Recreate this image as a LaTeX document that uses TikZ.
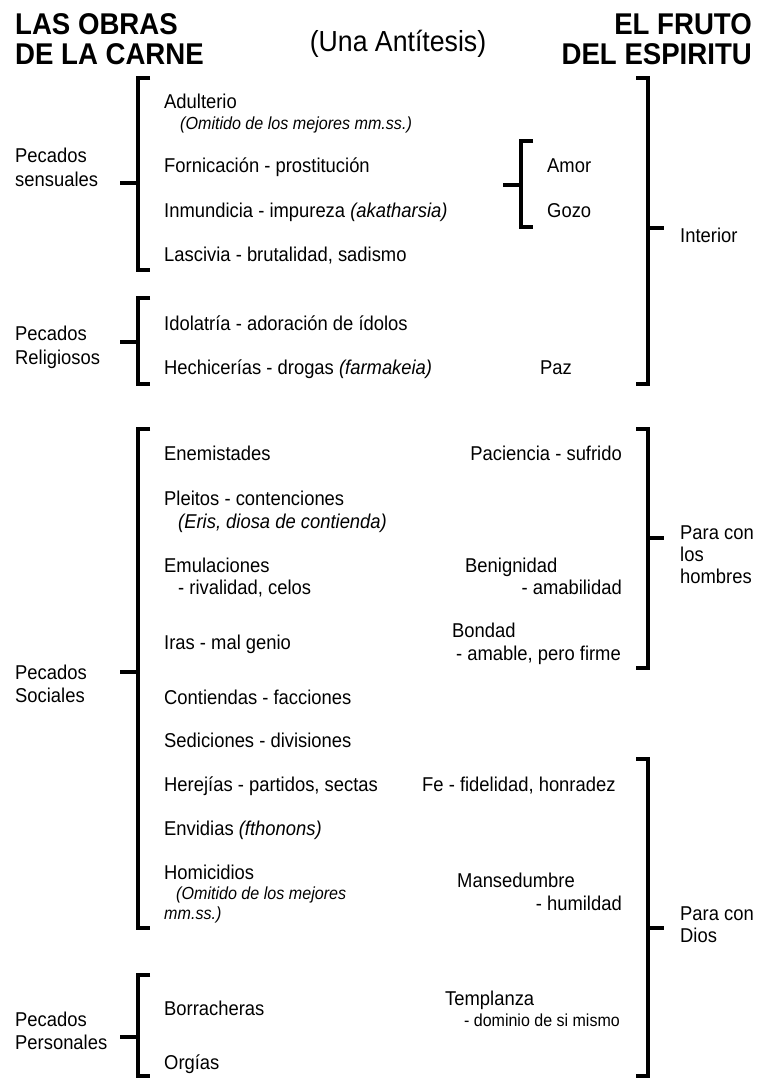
\documentclass[tikz,border=0pt]{standalone}
\usepackage{fontspec}
\setmainfont{Liberation Sans}[FakeStretch=0.92]
\begin{document}
\begin{tikzpicture}[x=1pt,y=-1pt,
  txt/.style={inner sep=0pt,anchor=base west,font=\fontsize{20}{24}\selectfont},
  txtr/.style={inner sep=0pt,anchor=base east,font=\fontsize{20}{24}\selectfont},
  note/.style={inner sep=0pt,anchor=base west,font=\fontsize{17.5}{21}\selectfont\itshape},
  noter/.style={inner sep=0pt,anchor=base east,font=\fontsize{17.4}{21}\selectfont},
  head/.style={inner sep=0pt,font=\fontsize{30}{34}\selectfont\bfseries},
  brk/.style={line width=3.6pt,line join=miter,line cap=butt}]
\useasboundingbox (0,0) rectangle (764,1078);
% headers
\node[head,anchor=base west] (h1) at (15,35) {LAS OBRAS};
\node[head,anchor=base west] (h2) at (15,65) {DE LA CARNE};
\node[inner sep=0pt,anchor=base,font=\fontsize{29}{32}\selectfont] (h3) at (398,52) {(Una Antítesis)};
\node[head,anchor=base east] (h4) at (752,35) {EL FRUTO};
\node[head,anchor=base east] (h5) at (752,65) {DEL ESPIRITU};
% left group labels
\node[txt] (ls1) at (15,163) {Pecados};
\node[txt] (ls2) at (15,186) {sensuales};
\node[txt] (lr1) at (15,340) {Pecados};
\node[txt] (lr2) at (15,364) {Religiosos};
\node[txt] (lso1) at (15,679) {Pecados};
\node[txt] (lso2) at (15,702) {Sociales};
\node[txt] (lp1) at (15,1026) {Pecados};
\node[txt] (lp2) at (15,1049) {Personales};
% left items
\node[txt] (a1) at (164,109) {Adulterio};
\node[note] (a1n) at (180,130) {(Omitido de los mejores mm.ss.)};
\node[txt] (a2) at (164,173) {Fornicación - prostitución};
\node[txt] (a3) at (164,217) {Inmundicia - impureza \textit{(akatharsia)}};
\node[txt] (a4) at (164,261) {Lascivia - brutalidad, sadismo};
\node[txt] (b1) at (164,330) {Idolatría - adoración de ídolos};
\node[txt] (b2) at (164,374) {Hechicerías - drogas \textit{(farmakeia)}};
\node[txt] (c1) at (164,460) {Enemistades};
\node[txt] (c2) at (164,505) {Pleitos - contenciones};
\node[txt,font=\fontsize{20}{24}\selectfont\itshape] (c2n) at (178,528) {(Eris, diosa de contienda)};
\node[txt] (c3) at (164,572) {Emulaciones};
\node[txt] (c3n) at (178,594) {- rivalidad, celos};
\node[txt] (c4) at (164,649) {Iras - mal genio};
\node[txt] (c5) at (164,704) {Contiendas - facciones};
\node[txt] (c6) at (164,747) {Sediciones - divisiones};
\node[txt] (c7) at (164,791) {Herejías - partidos, sectas};
\node[txt] (c8) at (164,835) {Envidias \textit{(fthonons)}};
\node[txt] (c9) at (164,879) {Homicidios};
\node[note] (c9n) at (176,899) {(Omitido de los mejores};
\node[note] (c9m) at (164,919) {mm.ss.)};
\node[txt] (d1) at (164,1015) {Borracheras};
\node[txt] (d2) at (164,1069) {Orgías};
% right items
\node[txt] (f1) at (547,173) {Amor};
\node[txt] (f2) at (547,217) {Gozo};
\node[txt] (f3) at (540,374) {Paz};
\node[txtr] (f4) at (622,460) {Paciencia - sufrido};
\node[txt] (f5) at (465,572) {Benignidad};
\node[txtr] (f5n) at (622,594) {- amabilidad};
\node[txt] (f6) at (452,637) {Bondad};
\node[txtr] (f6n) at (621,660) {- amable, pero firme};
\node[txt] (f7) at (422,791) {Fe - fidelidad, honradez};
\node[txt] (f8) at (457,887) {Mansedumbre};
\node[txtr] (f8n) at (622,910) {- humildad};
\node[txt] (f9) at (445,1005) {Templanza};
\node[noter] (f9n) at (620,1026) {- dominio de si mismo};
% right labels
\node[txt] (r1) at (680,242) {Interior};
\node[txt] (r2a) at (680,539) {Para con};
\node[txt] (r2b) at (680,561) {los};
\node[txt] (r2c) at (680,583) {hombres};
\node[txt] (r3a) at (680,920) {Para con};
\node[txt] (r3b) at (680,942) {Dios};
% left brackets
\draw[brk] (150,78) -- (138,78) -- (138,270) -- (150,270);
\draw[brk] (120,183) -- (138,183);
\draw[brk] (150,298) -- (138,298) -- (138,384) -- (150,384);
\draw[brk] (120,342) -- (138,342);
\draw[brk] (150,429) -- (138,429) -- (138,928) -- (150,928);
\draw[brk] (120,672) -- (138,672);
\draw[brk] (150,975) -- (138,975) -- (138,1076) -- (150,1076);
\draw[brk] (120,1037) -- (138,1037);
% small bracket Amor/Gozo
\draw[brk] (533,141) -- (521,141) -- (521,227) -- (533,227);
\draw[brk] (503,185) -- (521,185);
% right brackets
\draw[brk] (636,78) -- (648,78) -- (648,384) -- (636,384);
\draw[brk] (648,228) -- (664,228);
\draw[brk] (636,429) -- (648,429) -- (648,668) -- (636,668);
\draw[brk] (648,538) -- (664,538);
\draw[brk] (636,759) -- (648,759) -- (648,1076) -- (636,1076);
\draw[brk] (648,928) -- (664,928);
\end{tikzpicture}
\end{document}
